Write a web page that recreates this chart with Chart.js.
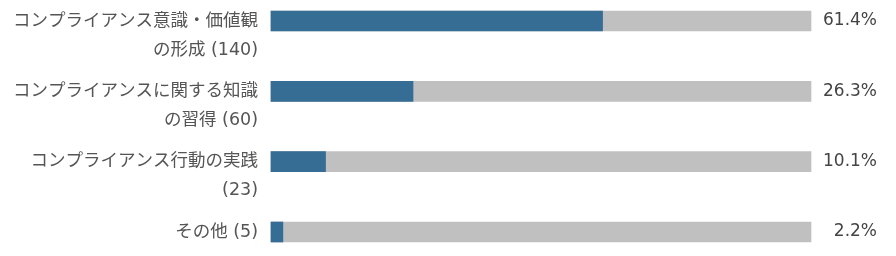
<!DOCTYPE html>
<html lang="ja">
<head>
<meta charset="utf-8">
<script src="https://cdn.jsdelivr.net/npm/chart.js@4/dist/chart.umd.min.js"></script>
<style>
  html, body { margin: 0; padding: 0; background: #fff; }
</style>
</head>
<body>
<canvas id="chart" width="896" height="256"></canvas>
<script>
// données
const categories = [
  ['コンプライアンス意識・価値観', 'の形成 (140)'],
  ['コンプライアンスに関する知識', 'の習得 (60)'],
  ['コンプライアンス行動の実践', '(23)'],
  ['その他 (5)', '']
];
const percents = [61.4, 26.3, 10.1, 2.2];
const track = [100, 100, 100, 100];
const percentLabels = ['61.4%', '26.3%', '10.1%', '2.2%'];

const FONT = "'DejaVu Sans', 'Noto Sans CJK JP', sans-serif";
const LINE_H = 29;

function noPad(scale) {
  scale.paddingTop = 0;
  scale.paddingBottom = 0;
}

new Chart(document.getElementById('chart').getContext('2d'), {
  type: 'bar',
  data: {
    labels: categories,
    datasets: [
      {
        data: percents,
        backgroundColor: '#366d94',
        barThickness: 20,
        grouped: false,
        order: 1,
        clip: false
      },
      {
        data: track,
        backgroundColor: '#c0c0c1',
        barThickness: 20,
        grouped: false,
        order: 2,
        clip: false
      }
    ]
  },
  options: {
    indexAxis: 'y',
    responsive: false,
    animation: false,
    layout: { padding: { top: 21, bottom: 24, left: 0, right: 19 } },
    scales: {
      x: { display: false, min: 0, max: 100 },
      y: {
        offset: false,
        grid: { display: false },
        border: { display: false },
        ticks: {
          padding: 5,
          labelOffset: LINE_H / 2,
          color: '#555',
          font: { family: FONT, size: 17.5, lineHeight: LINE_H + 'px' }
        },
        afterFit: function(scale) { scale.width = 271; noPad(scale); }
      },
      y2: {
        type: 'category',
        position: 'right',
        labels: percentLabels,
        offset: false,
        grid: { display: false },
        border: { display: false },
        ticks: {
          crossAlign: 'far',
          color: '#444',
          font: { family: FONT, size: 17 }
        },
        afterFit: function(scale) { scale.width = 66; noPad(scale); }
      }
    },
    plugins: {
      legend: { display: false },
      tooltip: { enabled: false }
    }
  }
});
</script>
</body>
</html>
